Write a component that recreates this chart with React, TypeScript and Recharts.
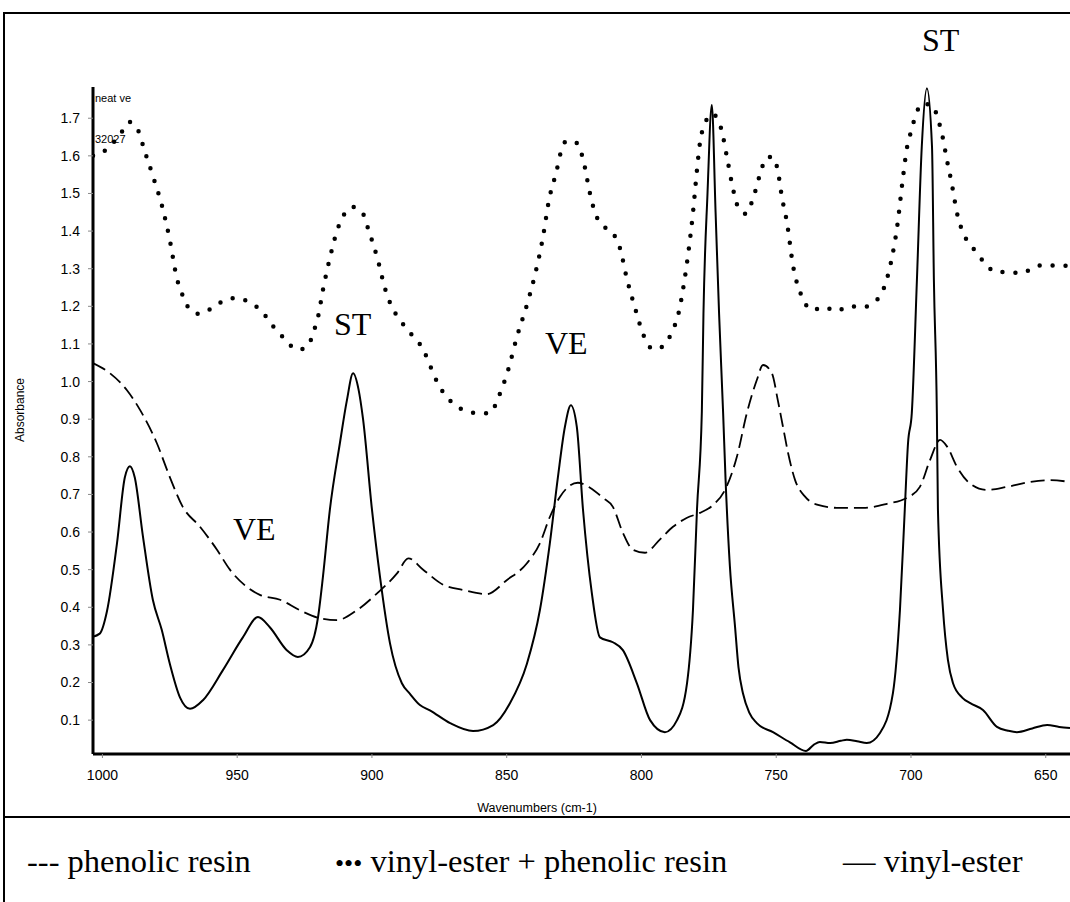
import React from 'react';
import { LineChart, Line, XAxis, YAxis } from 'recharts';

// vinyl-ester (solid)
const veWavenumbers = [1004.5, 1001, 998.3, 994.6, 991.7, 989.8, 988, 985, 981.3, 978, 975, 971.2, 967.5, 962.7, 955.3, 947.9, 942.3, 937.9, 931.6, 927.5, 923, 920, 918.2, 915.6, 911.9, 909.3, 907, 905, 903.3, 900, 897, 893.3, 888.9, 885.9, 882.2, 878.5, 871, 862.5, 855, 848.8, 842.5, 837.7, 834, 831, 828.4, 826.2, 824, 821.7, 818.4, 815.4, 810.6, 806.9, 801.7, 796.8, 791.3, 786.8, 783.1, 780.9, 779.4, 777.6, 777, 775.5, 773.9, 772.5, 771.2, 769.7, 768.8, 767.2, 765.3, 764, 762.3, 760, 757.2, 751.2, 744.9, 739, 736, 733.8, 730, 726, 723.8, 720, 716.4, 711.5, 706.7, 704.1, 702.3, 701.1, 699.7, 697.8, 696, 694.1, 692.2, 691.5, 690.4, 690, 688.1, 686.3, 684.4, 681, 678, 673.3, 668.1, 664, 660.7, 655, 649.5, 645, 641];
const veAbsorbance = [0.32, 0.33, 0.39, 0.57, 0.745, 0.775, 0.745, 0.59, 0.42, 0.34, 0.25, 0.16, 0.13, 0.153, 0.233, 0.32, 0.374, 0.347, 0.286, 0.268, 0.294, 0.374, 0.48, 0.66, 0.836, 0.95, 1.022, 0.98, 0.9, 0.66, 0.48, 0.304, 0.198, 0.17, 0.14, 0.126, 0.092, 0.071, 0.087, 0.145, 0.25, 0.392, 0.57, 0.746, 0.88, 0.937, 0.88, 0.66, 0.437, 0.32, 0.307, 0.286, 0.198, 0.1, 0.068, 0.1, 0.198, 0.392, 0.66, 0.92, 1.18, 1.5, 1.735, 1.45, 1.18, 0.916, 0.74, 0.51, 0.35, 0.24, 0.17, 0.12, 0.092, 0.068, 0.041, 0.018, 0.035, 0.042, 0.039, 0.045, 0.048, 0.044, 0.039, 0.066, 0.172, 0.392, 0.66, 0.836, 0.916, 1.27, 1.624, 1.78, 1.624, 1.27, 0.916, 0.66, 0.392, 0.26, 0.198, 0.16, 0.145, 0.127, 0.082, 0.072, 0.068, 0.078, 0.087, 0.082, 0.079];

// phenolic resin (dashed)
const phWavenumbers = [1003.5, 997.2, 990.9, 986, 979.8, 975, 970.2, 963.8, 957.5, 952.7, 946.4, 941.6, 934.1, 926.7, 919.3, 913, 905.6, 898.1, 890.7, 886.5, 881, 873.6, 866.2, 857.4, 850, 842.5, 837.7, 834, 830.2, 823.6, 819.1, 814.3, 810.6, 806.9, 803.2, 798.7, 793.2, 788.3, 783.1, 778.3, 773.4, 769, 764.6, 760.9, 757.2, 754.9, 751.6, 749.4, 747.5, 745.6, 743, 739.3, 734.5, 726.4, 717.8, 708.9, 701.5, 696.7, 692.9, 689.2, 686.6, 682.9, 678.1, 671.9, 664.4, 655.9, 648.4, 641];
const phAbsorbance = [1.049, 1.022, 0.977, 0.924, 0.836, 0.746, 0.667, 0.614, 0.553, 0.5, 0.454, 0.433, 0.42, 0.392, 0.371, 0.366, 0.392, 0.437, 0.49, 0.53, 0.5, 0.46, 0.446, 0.435, 0.472, 0.517, 0.57, 0.64, 0.694, 0.731, 0.718, 0.691, 0.667, 0.598, 0.553, 0.545, 0.58, 0.614, 0.638, 0.651, 0.672, 0.712, 0.8, 0.916, 1.004, 1.044, 1.022, 0.95, 0.88, 0.81, 0.738, 0.694, 0.672, 0.664, 0.664, 0.675, 0.691, 0.72, 0.792, 0.845, 0.827, 0.773, 0.729, 0.712, 0.72, 0.733, 0.738, 0.733];

// vinyl-ester + phenolic resin (dotted)
const mixWavenumbers = [1003.5, 999.8, 996.1, 992.8, 990.2, 987.2, 984.2, 980.9, 977.9, 975, 972.4, 969.4, 967.5, 963.8, 959.4, 955.3, 950.8, 946.4, 942.7, 939.7, 936.7, 933.4, 930.4, 927.5, 923.7, 921.8, 920, 918.2, 915.6, 912.6, 910.8, 907.1, 903.3, 901.5, 898.1, 894.8, 892.6, 889.6, 885.9, 882, 879.2, 877.3, 873.6, 869.9, 864.8, 860.7, 856.2, 853.2, 849.5, 846.2, 842.5, 839.5, 836.6, 834.3, 831.4, 830.2, 827.7, 824, 821.7, 819.1, 817.3, 815, 810.6, 808, 805.4, 802.4, 799, 795.7, 791.7, 788.7, 786.4, 784.2, 782.4, 780.9, 779.4, 778.3, 775.7, 773.8, 770.5, 768.3, 766.4, 764.2, 761.2, 759, 755.7, 753.8, 751.2, 749.4, 747.9, 746, 743.8, 740.1, 736.8, 732.3, 727.8, 723, 717.8, 713.4, 710.4, 707.4, 705.2, 703, 701.5, 700, 698.2, 696, 692.2, 690, 688.1, 686.7, 685.2, 682.6, 680.3, 677, 672.9, 668.5, 663.6, 658.8, 654.3, 650.3, 644.7, 641];
const mixAbsorbance = [1.6, 1.61, 1.634, 1.664, 1.69, 1.674, 1.61, 1.538, 1.467, 1.376, 1.275, 1.216, 1.19, 1.18, 1.195, 1.214, 1.222, 1.214, 1.198, 1.176, 1.147, 1.121, 1.097, 1.084, 1.095, 1.13, 1.172, 1.243, 1.329, 1.408, 1.438, 1.464, 1.446, 1.408, 1.331, 1.239, 1.198, 1.164, 1.13, 1.097, 1.057, 1.022, 0.972, 0.942, 0.921, 0.916, 0.916, 0.956, 1.03, 1.119, 1.204, 1.284, 1.382, 1.483, 1.563, 1.602, 1.64, 1.634, 1.592, 1.5, 1.45, 1.419, 1.395, 1.355, 1.273, 1.196, 1.119, 1.086, 1.095, 1.132, 1.177, 1.262, 1.355, 1.448, 1.563, 1.634, 1.698, 1.712, 1.674, 1.597, 1.525, 1.465, 1.446, 1.478, 1.558, 1.595, 1.597, 1.56, 1.491, 1.422, 1.31, 1.22, 1.19, 1.198, 1.187, 1.2, 1.198, 1.212, 1.242, 1.318, 1.408, 1.541, 1.621, 1.664, 1.709, 1.738, 1.735, 1.698, 1.645, 1.59, 1.538, 1.438, 1.39, 1.355, 1.318, 1.291, 1.291, 1.288, 1.304, 1.31, 1.307, 1.31];

const xTicks = [1000, 950, 900, 850, 800, 750, 700, 650];
const yTicks = [0.1, 0.2, 0.3, 0.4, 0.5, 0.6, 0.7, 0.8, 0.9, 1.0, 1.1, 1.2, 1.3, 1.4, 1.5, 1.6, 1.7];

const toSeries = (wn: number[], ab: number[]) => wn.map((w, i) => ({ wn: w, abs: ab[i] }));

const veData = toSeries(veWavenumbers, veAbsorbance);
const phData = toSeries(phWavenumbers, phAbsorbance);
const mixData = toSeries(mixWavenumbers, mixAbsorbance);

const SANS = '"Liberation Sans", Arial, sans-serif';
const SERIF = '"Liberation Serif", "Times New Roman", serif';

const serifText = (text: React.ReactNode, x: number, y: number, size = 32): React.ReactNode => (
  <div style={{ position: 'absolute', left: x, top: y, fontFamily: SERIF, fontSize: size, lineHeight: 1, whiteSpace: 'nowrap', color: '#000' }}>
    {text}
  </div>
);

const App: React.FC = () => {
  return (
    <div style={{ position: 'absolute', left: 0, top: 0, width: 1070, height: 902, overflow: 'hidden', background: '#fff' }}>
      <div style={{ position: 'absolute', left: 3, top: 12, width: 1090, height: 900, border: '2px solid #000', boxSizing: 'border-box' }} />
      <div style={{ position: 'absolute', left: 3, top: 816, width: 1070, height: 2, background: '#000' }} />

      <div style={{ position: 'absolute', left: 0, top: 0 }}>
        <LineChart width={1070} height={902} margin={{ top: 87, right: 0, bottom: 118, left: 0 }}>
          <XAxis
            type="number"
            dataKey="wn"
            domain={[641, 1003.5]}
            reversed
            allowDataOverflow
            ticks={xTicks}
            height={30}
            axisLine={{ stroke: '#000', strokeWidth: 3 }}
            tickLine={{ stroke: '#888' }}
            tickSize={4}
            tickMargin={12}
            tick={{ fill: '#000', fontSize: 14, fontFamily: SANS }}
          />
          <YAxis
            type="number"
            domain={[0.01, 1.783]}
            allowDataOverflow
            ticks={yTicks}
            width={93}
            axisLine={{ stroke: '#000', strokeWidth: 3 }}
            tickLine={{ stroke: '#888' }}
            tickSize={5}
            tickMargin={8}
            tickFormatter={(v: number) => v.toFixed(1)}
            tick={{ fill: '#000', fontSize: 14, fontFamily: SANS }}
          />
          <Line data={veData} dataKey="abs" type="monotone" stroke="#000" strokeWidth={2} dot={false} isAnimationActive={false} />
          <Line data={phData} dataKey="abs" type="monotone" stroke="#000" strokeWidth={1.8} strokeDasharray="14 6" dot={false} isAnimationActive={false} />
          <Line data={mixData} dataKey="abs" type="monotone" stroke="#000" strokeWidth={4.5} strokeDasharray="0 13" strokeLinecap="round" dot={false} isAnimationActive={false} />
        </LineChart>
      </div>

      <div style={{ position: 'absolute', left: 20, top: 410, transform: 'translate(-50%, -50%) rotate(-90deg)', fontFamily: SANS, fontSize: 12, whiteSpace: 'nowrap' }}>
        Absorbance
      </div>
      <div style={{ position: 'absolute', left: 537, top: 808, transform: 'translate(-50%, -50%)', fontFamily: SANS, fontSize: 12.5, whiteSpace: 'nowrap' }}>
        Wavenumbers (cm-1)
      </div>
      <div style={{ position: 'absolute', left: 95, top: 92, fontFamily: SANS, fontSize: 11, whiteSpace: 'nowrap' }}>neat ve</div>
      <div style={{ position: 'absolute', left: 95, top: 133, fontFamily: SANS, fontSize: 11, whiteSpace: 'nowrap' }}>32027</div>

      {serifText('ST', 922, 24)}
      {serifText('ST', 334, 308)}
      {serifText('VE', 545, 327)}
      {serifText('VE', 233, 513)}

      {serifText('--- phenolic resin', 27, 845, 32.5)}
      {serifText(<><span style={{ fontSize: 26 }}>•••</span> vinyl-ester + phenolic resin</>, 335, 845, 32.5)}
      {serifText('— vinyl-ester', 843, 845, 32.5)}
    </div>
  );
};

export default App;
